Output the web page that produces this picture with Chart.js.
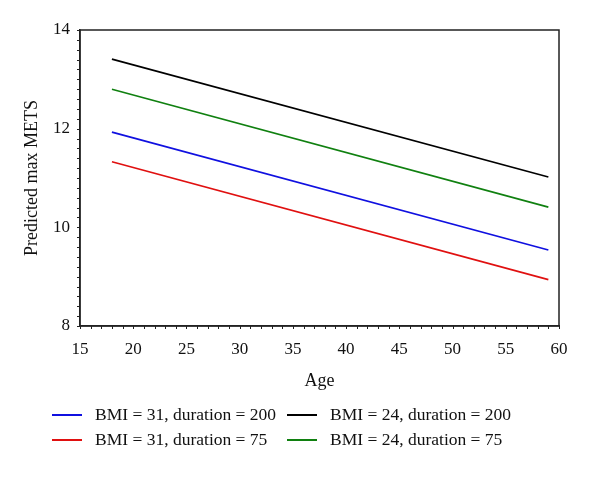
<!DOCTYPE html>
<html>
<head>
<meta charset="utf-8">
<script src="https://cdn.jsdelivr.net/npm/chart.js@4.4.1/dist/chart.umd.min.js"></script>
<style>
  html, body { margin: 0; padding: 0; background: #fff; }
  #wrap { position: relative; width: 600px; height: 482px; }
  #legend {
    position: absolute; left: 52px; top: 403px;
    display: grid; grid-template-columns: 235px 260px; row-gap: 2px;
    font-family: "Liberation Serif", "DejaVu Serif", serif; font-size: 17.5px; color: #111;
  }
  .item { display: flex; align-items: center; height: 23px; white-space: nowrap; }
  .swatch { width: 30px; height: 2px; margin-right: 13px; }
</style>
</head>
<body>
<div id="wrap">
  <canvas id="c" width="600" height="482"></canvas>
  <div id="legend"></div>
</div>
<script>
const FONT = '"Liberation Serif", "DejaVu Serif", serif';
Chart.defaults.font.family = FONT;
Chart.defaults.font.size = 17;
Chart.defaults.color = '#111';
Chart.defaults.animation = false;

// ---------- data ----------
const ages = [18, 59];
const labels = [
  'BMI = 31, duration = 200',
  'BMI = 24, duration = 200',
  'BMI = 31, duration = 75',
  'BMI = 24, duration = 75',
];
const colors = ['#1010e0', '#000000', '#e01010', '#108010'];
const bmi31dur200 = [11.93, 9.54];
const bmi24dur200 = [13.41, 11.02];
const bmi31dur75 = [11.33, 8.94];
const bmi24dur75 = [12.80, 10.41];
const series = [bmi31dur200, bmi24dur200, bmi31dur75, bmi24dur75];

const yMajor = [8, 10, 12, 14];
const xMajor = [15, 20, 25, 30, 35, 40, 45, 50, 55, 60];

// frame + minor ticks
const framePlugin = {
  id: 'frame',
  afterDraw(chart) {
    const { ctx, chartArea: a, scales } = chart;
    ctx.save();
    ctx.strokeStyle = '#222';
    ctx.lineWidth = 1.5;
    ctx.strokeRect(a.left, a.top, a.right - a.left, a.bottom - a.top);
    ctx.lineWidth = 1;
    ctx.beginPath();
    for (let v = 8; v <= 14.001; v += 0.2) {
      const y = Math.round(scales.y.getPixelForValue(v)) + 0.5;
      ctx.moveTo(a.left, y); ctx.lineTo(a.left - 3, y);
    }
    for (let v = 15; v <= 60; v += 1) {
      const x = Math.round(scales.x.getPixelForValue(v)) + 0.5;
      ctx.moveTo(x, a.bottom); ctx.lineTo(x, a.bottom + 3);
    }
    ctx.stroke();
    ctx.restore();
  }
};

new Chart(document.getElementById('c'), {
  type: 'line',
  data: {
    datasets: series.map((s, i) => ({
      label: labels[i],
      data: s.map((v, j) => ({ x: ages[j], y: v })),
      borderColor: colors[i],
      borderWidth: 1.6,
      pointRadius: 0,
      fill: false,
    }))
  },
  options: {
    responsive: false,
    layout: { padding: { left: 0, right: 41, top: 30, bottom: 0 } },
    plugins: { legend: { display: false }, tooltip: { enabled: false } },
    scales: {
      x: {
        type: 'linear', min: 15, max: 60,
        afterBuildTicks: (s) => { s.ticks = xMajor.map(v => ({ value: v })); },
        afterFit: (s) => { s.height = 156; },
        grid: { display: false, drawTicks: true, tickLength: 5, tickColor: '#222' },
        border: { display: true, color: '#222', width: 1.5 },
        ticks: { padding: 8, color: '#111' },
        title: { display: true, text: 'Age', font: { size: 18 }, padding: { top: 0, bottom: 90 }, color: '#111' },
      },
      y: {
        type: 'linear', min: 8, max: 14,
        afterBuildTicks: (s) => { s.ticks = yMajor.map(v => ({ value: v })); },
        afterFit: (s) => { s.width = 80; },
        grid: { display: false, drawTicks: true, tickLength: 5, tickColor: '#222' },
        border: { display: true, color: '#222', width: 1.5 },
        ticks: { padding: 5, color: '#111' },
        title: { display: true, text: 'Predicted max METS', font: { size: 18 }, padding: { top: 21, bottom: 0 }, color: '#111' },
      }
    }
  },
  plugins: [framePlugin]
});

// legend as real text
const legend = document.getElementById('legend');
labels.forEach((t, i) => {
  const d = document.createElement('div');
  d.className = 'item';
  d.innerHTML = '<span class="swatch" style="background:' + colors[i] + '"></span><span>' + t + '</span>';
  legend.appendChild(d);
});
</script>
</body>
</html>
